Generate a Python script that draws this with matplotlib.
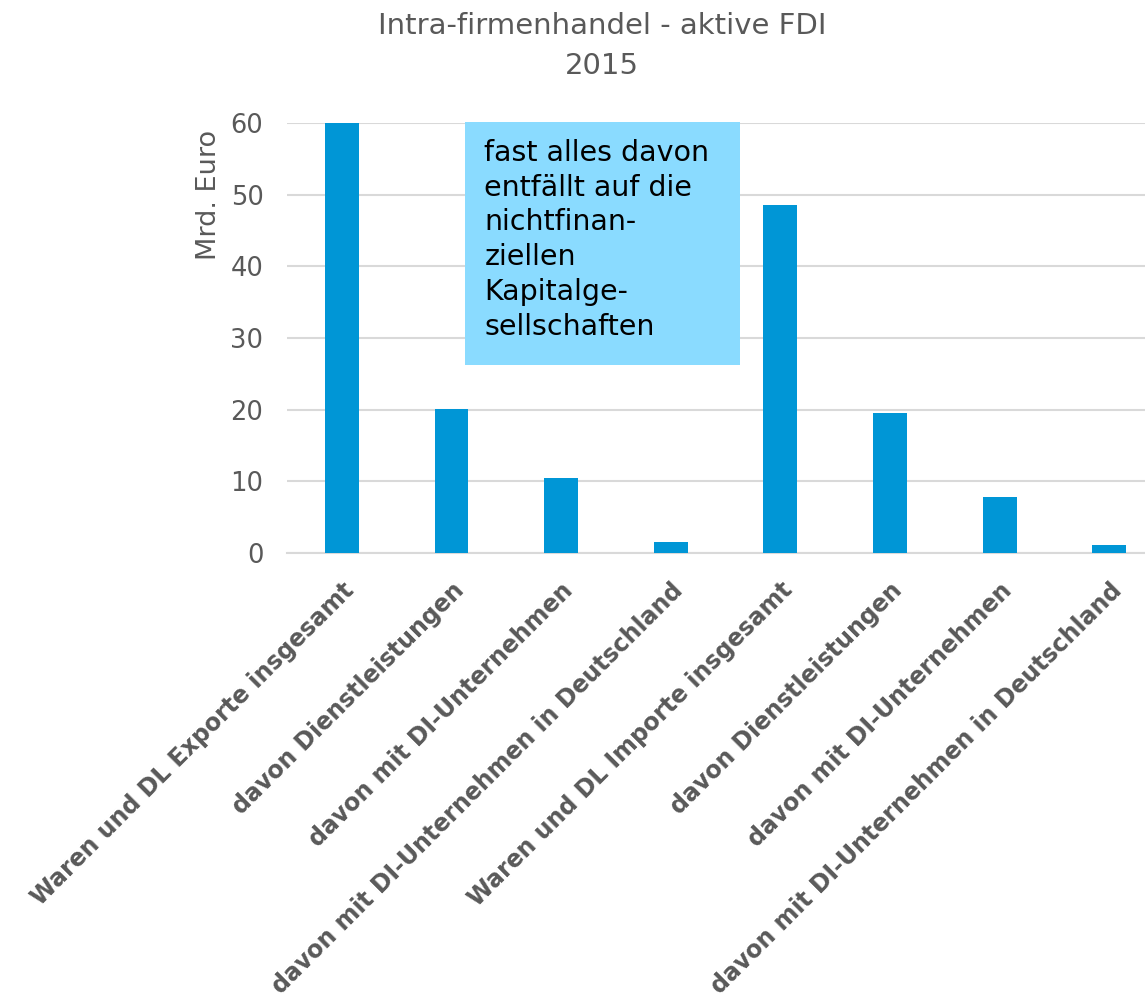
import matplotlib.pyplot as plt
from matplotlib.patches import Rectangle

categories = [
    "Waren und DL Exporte insgesamt",
    "davon Dienstleistungen",
    "davon mit DI-Unternehmen",
    "davon mit DI-Unternehmen in Deutschland",
    "Waren und DL Importe insgesamt",
    "davon Dienstleistungen",
    "davon mit DI-Unternehmen",
    "davon mit DI-Unternehmen in Deutschland",
]
values = [60.0, 20.1, 10.5, 1.6, 48.5, 19.6, 7.8, 1.1]
yticks = [0, 10, 20, 30, 40, 50, 60]

note = "fast alles davon\nentfällt auf die\nnichtfinan-\nziellen\nKapitalge-\nsellschaften"

grey = "#595959"
plt.rcParams['font.family'] = ['DejaVu Sans']

fig = plt.figure(figsize=(11.45, 9.97), dpi=100)
# plot area runs past the right edge, as in the cropped original
ax = fig.add_axes([0.2507, 0.4453, 0.766, 0.4313])

x = range(len(values))
ax.bar(x, values, width=0.31, color="#0096D6", zorder=3)

ax.set_xlim(-0.5, 7.5)
ax.set_ylim(0, 60)
ax.set_yticks(yticks)
ax.yaxis.grid(True, color="#D9D9D9", linewidth=1.5, zorder=0)
ax.set_axisbelow(True)
for s in ["top", "right", "left"]:
    ax.spines[s].set_visible(False)
ax.spines["bottom"].set_color("#D9D9D9")
ax.spines["bottom"].set_linewidth(1.5)
ax.tick_params(length=0)
ax.tick_params(axis="y", labelsize=18.5, labelcolor=grey, pad=17)

ax.set_xticks(list(x))
ax.set_xticklabels(categories, rotation=45, ha="right", rotation_mode="anchor",
                   fontsize=17, fontweight="bold", color=grey)
ax.tick_params(axis="x", pad=18)

ax.set_ylabel("Mrd. Euro", fontsize=19.5, color=grey, loc="top")
ax.yaxis.set_label_coords(-0.074, 0.984)

# note box
ax.add_patch(Rectangle((1.124, 26.2), 2.51, 33.9, facecolor="#8ADBFF",
                       edgecolor="none", zorder=4, clip_on=False))
ax.text(1.30, 57.8, note, fontsize=20.5, color="black", va="top", ha="left",
        linespacing=1.31, zorder=5)

fig.text(0.526, 0.988, "Intra-firmenhandel - aktive FDI\n2015", ha="center",
         va="top", fontsize=21, color=grey, linespacing=1.55)

fig.savefig("out.png", dpi=100)
